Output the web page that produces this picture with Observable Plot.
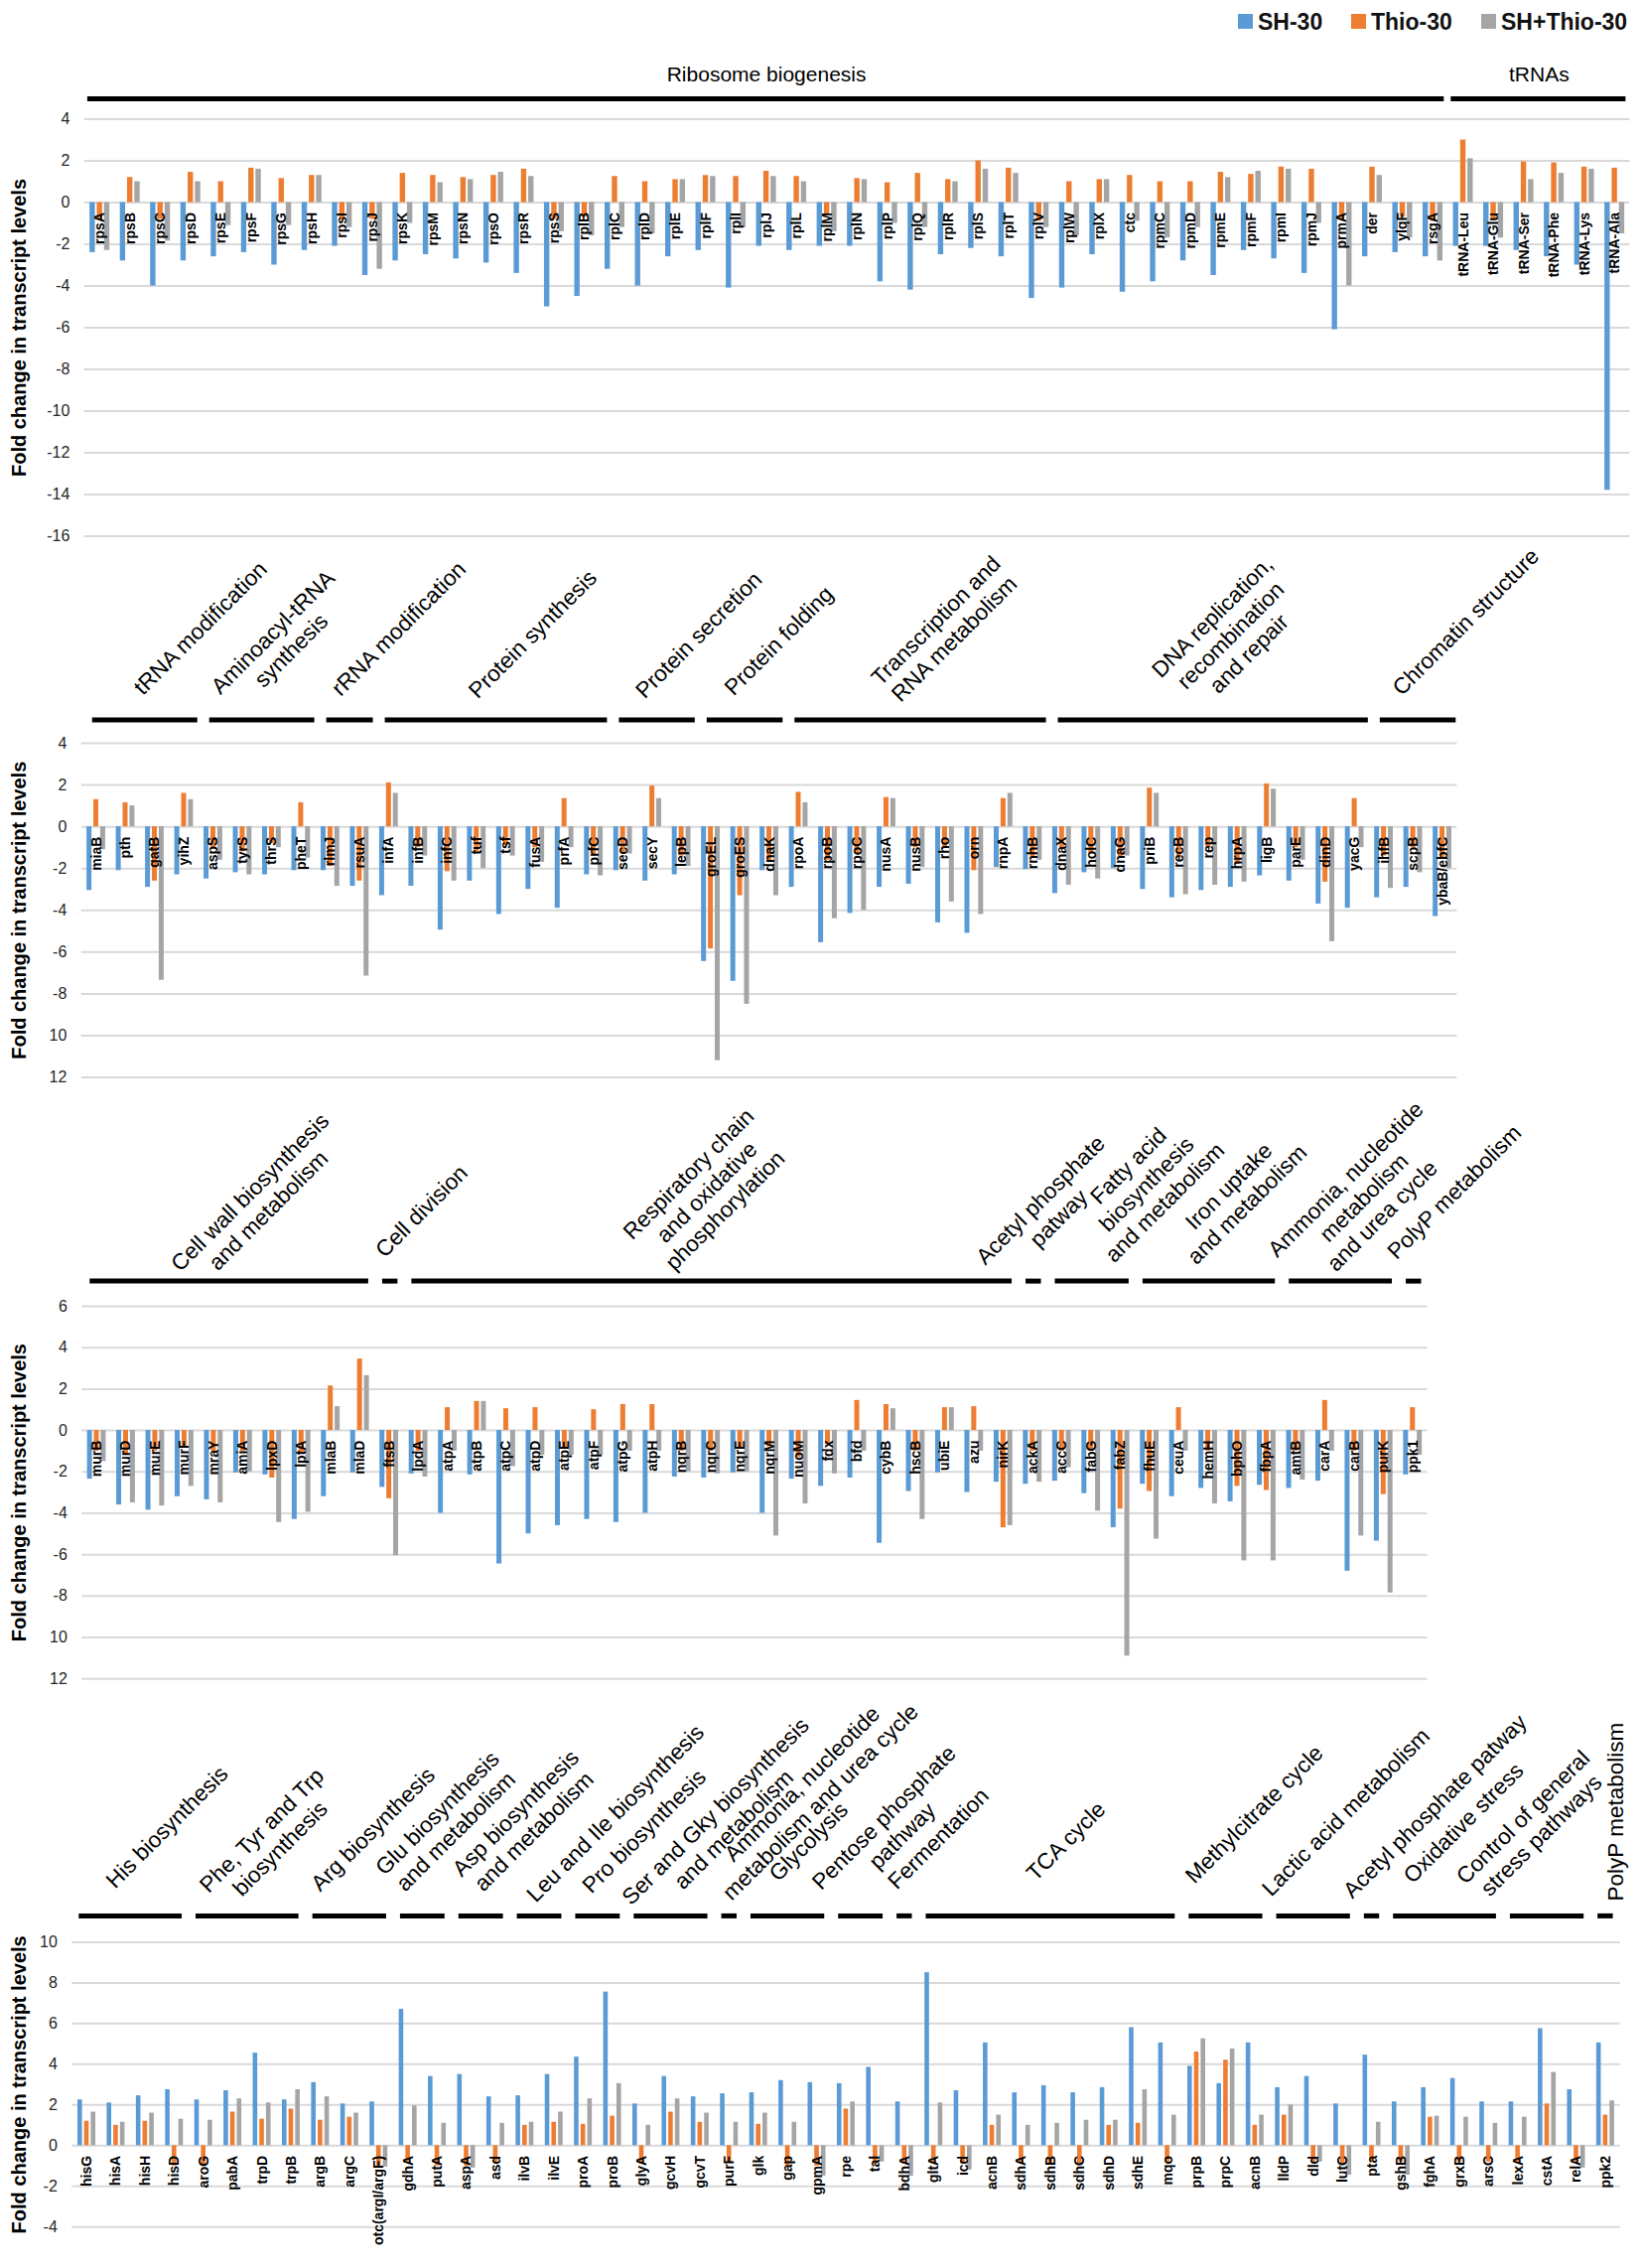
<!DOCTYPE html>
<html>
<head>
<meta charset="utf-8">
<script src="https://cdn.jsdelivr.net/npm/d3@7"></script>
<script src="https://cdn.jsdelivr.net/npm/@observablehq/plot@0.6"></script>
<style>
  html, body { margin: 0; padding: 0; background: #fff; }
  body { width: 1654px; height: 2284px; position: relative; overflow: hidden; font-family: "Liberation Sans", Arial, sans-serif; }
  .panel { position: absolute; left: 0; }
  #legend { position: absolute; left: 0; top: 0; }
</style>
</head>
<body>
<svg id="legend" width="1654" height="44"></svg>
<div id="p1" class="panel" style="top:40px"></div>
<div id="p2" class="panel" style="top:520px"></div>
<div id="p3" class="panel" style="top:1080px"></div>
<div id="p4" class="panel" style="top:1690px"></div>
<script>
// ---------------- DATA ----------------
const SERIES = ["SH-30", "Thio-30", "SH+Thio-30"];

// Panel 1
const genes1 = ["rpsA","rpsB","rpsC","rpsD","rpsE","rpsF","rpsG","rpsH","rpsI","rpsJ","rpsK","rpsM","rpsN","rpsO","rpsR","rpsS","rplB","rplC","rplD","rplE","rplF","rplI","rplJ","rplL","rplM","rplN","rplP","rplQ","rplR","rplS","rplT","rplV","rplW","rplX","ctc","rpmC","rpmD","rpmE","rpmF","rpmI","rpmJ","prmA","der","ylqF","rsgA","tRNA-Leu","tRNA-Glu","tRNA-Ser","tRNA-Phe","tRNA-Lys","tRNA-Ala"];
const sh1 = [-2.4,-2.8,-4.0,-2.8,-2.6,-2.4,-3.0,-2.3,-2.1,-3.5,-2.8,-2.5,-2.7,-2.9,-3.4,-5.0,-4.5,-3.2,-4.0,-2.6,-2.3,-4.1,-2.1,-2.3,-2.1,-2.1,-3.8,-4.2,-2.5,-2.2,-2.6,-4.6,-4.1,-2.5,-4.3,-3.8,-2.8,-3.5,-2.3,-2.7,-3.4,-6.1,-2.6,-2.4,-2.6,-2.1,-2.1,-2.3,-2.6,-3.0,-13.8];
const thio1 = [-0.8,1.2,-0.8,1.45,1.0,1.65,1.15,1.3,-0.8,-0.8,1.4,1.3,1.2,1.3,1.6,-0.8,-0.7,1.25,1.0,1.1,1.3,1.25,1.5,1.25,-0.6,1.15,0.95,1.4,1.1,2.0,1.65,-0.9,1.0,1.1,1.3,1.0,1.0,1.45,1.35,1.7,1.6,-0.8,1.7,-0.7,-0.9,3.0,-0.8,1.95,1.9,1.7,1.65];
const both1 = [-2.3,1.0,-1.85,1.0,-1.1,1.6,-1.1,1.3,-1.2,-3.2,-1.0,0.95,1.1,1.45,1.25,-1.4,-1.6,-1.2,-1.5,1.1,1.25,-1.2,1.25,1.0,-1.4,1.1,-1.0,-1.2,1.0,1.6,1.4,-1.2,-1.6,1.1,-0.9,-1.7,-1.2,1.2,1.5,1.6,-1.0,-4.0,1.3,-1.7,-2.8,2.1,-1.7,1.1,1.4,1.6,-1.5];
const groups1 = [["Ribosome biogenesis", 45], ["tRNAs", 6]];

// Panel 2
const genes2 = ["miaB","pth","gatB","yihZ","aspS","tyrS","thrS","pheT","rlmJ","rsuA","infA","infB","infC","tuf","tsf","fusA","prfA","prfC","secD","secY","lepB","groEL","groES","dnaK","rpoA","rpoB","rpoC","nusA","nusB","rho","orn","rnpA","rnhB","dnaX","holC","dnaG","priB","recB","rep","hrpA","ligB","parE","dinD","yacG","ihfB","scpB","ybaB/ebfC"];
const sh2 = [-3.05,-2.1,-2.9,-2.3,-2.5,-2.2,-2.3,-2.1,-2.1,-2.85,-3.3,-2.85,-4.95,-2.6,-4.2,-3.0,-3.9,-2.3,-2.1,-2.6,-2.3,-6.45,-7.4,-2.1,-2.9,-5.55,-4.15,-2.9,-2.75,-4.6,-5.1,-1.95,-2.05,-3.2,-2.2,-2.0,-3.0,-3.4,-3.05,-2.9,-2.35,-2.6,-3.7,-3.9,-3.4,-2.9,-4.3];
const thio2 = [1.3,1.15,-2.6,1.6,-1.0,-1.2,-0.8,1.15,-1.9,-2.6,2.1,-1.0,-2.15,-1.2,-0.9,-1.0,1.35,-1.4,-1.3,1.95,-1.4,-5.85,-3.3,-1.7,1.65,-1.6,-1.3,1.4,-1.0,-1.0,-2.1,1.35,-1.5,-1.0,-1.3,-1.5,1.85,-1.5,-1.0,-1.8,2.05,-1.0,-2.65,1.35,-1.4,-1.0,-1.5];
const both2 = [-1.1,1.0,-7.35,1.3,-1.6,-2.3,-1.0,-1.5,-2.85,-7.15,1.6,-1.4,-2.6,-2.0,-1.4,-1.7,-1.0,-2.35,-1.3,1.35,-1.9,-11.2,-8.5,-3.3,1.15,-4.4,-4.0,1.35,-1.95,-3.6,-4.2,1.6,-1.6,-2.8,-2.5,-1.4,1.6,-3.25,-2.8,-2.65,1.8,-1.6,-5.5,-1.0,-2.95,-2.2,-2.0];
const groups2 = [["tRNA modification", 4], ["Aminoacyl-tRNA\nsynthesis", 4], ["rRNA modification", 2], ["Protein synthesis", 8], ["Protein secretion", 3], ["Protein folding", 3], ["Transcription and\nRNA metabolism", 9], ["DNA replication,\nrecombination\nand repair", 11], ["Chromatin structure", 3]];

// Panel 3
const genes3 = ["murB","murD","murE","murF","mraY","amiA","lpxD","lptA","mlaB","mlaD","ftsB","lpdA","atpA","atpB","atpC","atpD","atpE","atpF","atpG","atpH","nqrB","nqrC","nqrE","nqrM","nuoM","fdx","bfd","cybB","hscB","ubiE","azu","nirK","ackA","accC","fabG","fabZ","fhuE","ceuA","hemH","bphO","fbpA","amtB","carA","carB","purK","ppk1"];
const sh3 = [-2.35,-3.6,-3.85,-3.2,-3.35,-2.05,-2.15,-4.3,-3.2,-2.05,-2.75,-2.1,-4.0,-2.15,-6.45,-5.0,-4.6,-4.3,-4.45,-4.0,-2.25,-2.3,-2.05,-4.0,-2.35,-2.7,-2.3,-5.45,-2.95,-2.05,-3.0,-2.5,-2.6,-2.45,-3.05,-4.7,-2.6,-3.2,-2.8,-3.45,-2.65,-2.8,-2.45,-6.8,-5.35,-2.15];
const thio3 = [-1.0,-1.2,-1.0,-0.8,-1.0,-1.0,-2.3,-1.1,2.15,3.45,-3.3,-1.0,1.1,1.4,1.05,1.1,-0.9,1.0,1.25,1.25,-1.0,-1.0,-0.9,-0.8,-1.3,-0.7,1.45,1.25,-1.0,1.1,1.15,-4.7,-1.0,-1.0,-1.0,-3.8,-2.95,1.1,-1.0,-2.7,-2.9,-1.0,1.45,-1.0,-3.1,1.1];
const both3 = [-1.5,-3.5,-3.65,-2.7,-3.5,-2.0,-4.45,-3.95,1.15,2.65,-6.05,-2.25,-1.0,1.4,-1.75,-1.2,-1.2,-1.2,-1.0,-1.0,-2.0,-2.1,-2.0,-5.1,-3.55,-2.1,-1.0,1.05,-4.3,1.1,-1.0,-4.6,-2.5,-1.8,-3.9,-10.9,-5.25,-1.0,-3.55,-6.3,-6.3,-2.4,-1.0,-5.1,-7.85,-1.2];
const groups3 = [["Cell wall biosynthesis\nand metabolism", 10], ["Cell division", 1], ["Respiratory chain\nand oxidative\nphosphorylation", 21], ["Acetyl phosphate\npatway", 1], ["Fatty acid\nbiosynthesis\nand metabolism", 3], ["Iron uptake\nand metabolism", 5], ["Ammonia, nucleotide\nmetabolism\nand urea cycle", 4], ["PolyP metabolism", 1]];

// Panel 4
const genes4 = ["hisG","hisA","hisH","hisD","aroG","pabA","trpD","trpB","argB","argC","otc(argI/argF)","gdhA","putA","aspA","asd","ilvB","ilvE","proA","proB","glyA","gcvH","gcvT","purF","glk","gap","gpmA","rpe","tal","bdhA","gltA","icd","acnB","sdhA","sdhB","sdhC","sdhD","sdhE","mqo","prpB","prpC","acnB","lldP","dld","lutC","pta","gshB","fghA","grxB","arsC","lexA","cstA","relA","ppk2"];
const sh4 = [2.25,2.1,2.45,2.75,2.25,2.7,4.55,2.25,3.1,2.05,2.15,6.7,3.4,3.5,2.4,2.45,3.5,4.35,7.55,2.05,3.4,2.4,2.55,2.6,3.2,3.1,3.05,3.85,2.15,8.5,2.7,5.05,2.6,2.95,2.6,2.85,5.8,5.05,3.9,3.05,5.05,2.85,3.4,2.05,4.45,2.15,2.85,3.3,2.15,2.15,5.75,2.75,5.05];
const thio4 = [1.2,1.0,1.2,-1.0,-1.0,1.65,1.3,1.8,1.25,1.4,-1.0,-0.8,-1.0,-1.0,-0.8,1.0,1.15,1.05,1.45,-0.9,1.65,1.15,-0.8,1.05,-1.0,-1.0,1.8,-0.9,-0.9,-0.9,-0.9,1.0,-0.9,-0.9,-0.9,1.0,1.1,-0.8,4.6,4.2,1.0,1.5,-0.8,-0.9,-0.8,-0.8,1.4,-0.8,-0.8,-0.8,2.05,-0.8,1.5];
const both4 = [1.65,1.15,1.6,1.3,1.25,2.3,2.1,2.75,2.4,1.6,-1.05,1.95,1.1,-1.1,1.1,1.15,1.65,2.3,3.05,1.0,2.3,1.6,1.15,1.6,1.15,-1.5,2.15,-0.8,-1.5,2.1,-1.2,1.5,1.0,1.1,1.25,1.25,2.75,1.5,5.25,4.75,1.5,2.0,-0.8,-1.45,1.15,-1.45,1.45,1.4,1.1,1.4,3.6,-1.1,2.2];
const groups4 = [["His biosynthesis", 4], ["Phe, Tyr and Trp\nbiosynthesis", 4], ["Arg biosynthesis", 3], ["Glu biosynthesis\nand metabolism", 2], ["Asp biosynthesis\nand metabolism", 2], ["Leu and Ile biosynthesis", 2], ["Pro biosynthesis", 2], ["Ser and Gky biosynthesis\nand metabolism", 3], ["Ammonia, nucleotide\nmetabolism and urea cycle", 1], ["Glycolysis", 3], ["Pentose phosphate\npathway", 2], ["Fermentation", 1], ["TCA cycle", 9], ["Methylcitrate cycle", 3], ["Lactic acid metabolism", 3], ["Acetyl phosphate patway", 1], ["Oxidative stress", 4], ["Control of general\nstress pathways", 3], ["PolyP metabolism", 1]];

const yTitle = "Fold change in transcript levels";

// ---------------- STYLE / LAYOUT ----------------
const COLORS = ["#5b9bd5", "#ed7d31", "#a5a5a5"];
const FONT = '"Liberation Sans", Arial, sans-serif';
const CAT_SIZE = 22.5, LINE_H = 26;
// pixel offsets of each group label's last-line start from its bracket centre
const catPos2 = [[2,-24],[6,-32],[-5,-23],[-14,-21],[-8,-21],[-7,-24],[-16,-17],[10,-26],[-12,-24]];
const catPos3 = [[-11,-10],[-5,-23],[-37,-10],[6,-33],[23,-18],[-12,-16],[-4,-9],[-17,-21]];
const catPos4 = [[-16,-27],[-6,-19],[-30,-24],[-18,-24],[2,-24],[-4,-13],[-7,-22],[12,-26],[2,-15],[-10,-34],[17,-46],[-8,-26],[-16,-34],[-32,-32],[-43,-19],[-20,-17],[-33,-32],[-58,-19],[10,-15]];

const ctx = document.createElement("canvas").getContext("2d");
function textW(t, size, weight = "normal", family = FONT) { ctx.font = `${weight} ${size}px ${family}`; return ctx.measureText(t).width; }

// gene-label font: narrow bold if available, otherwise a smaller regular-width bold
const narrowOK = textW("rpsAhisGmmmm", 16, "bold", '"Liberation Sans Narrow", monospace') !== textW("rpsAhisGmmmm", 16, "bold", "monospace");
const GENE_FONT = narrowOK ? '"Liberation Sans Narrow", "Liberation Sans", Arial, sans-serif' : FONT;
const GENE_SIZE = narrowOK ? 16 : 14;

// Legend
(function () {
  const svg = d3.select("#legend");
  const xs = [1247, 1361, 1492];
  SERIES.forEach((s, j) => {
    svg.append("rect").attr("x", xs[j]).attr("y", 14).attr("width", 15).attr("height", 15).attr("fill", COLORS[j]);
    svg.append("text").attr("x", xs[j] + 20).attr("y", 21.6).attr("dy", "0.36em")
      .attr("font-family", FONT).attr("font-weight", "bold").attr("font-size", 23).attr("fill", "#111").text(s);
  });
})();

function drawPanel(P) {
  const n = P.genes.length;
  const bw = (P.x1 - P.x0) / n;
  const [yMin, yMax] = P.yDomain;
  const pyu = (P.height - P.mBottom - P.mTop) / (yMax - yMin);
  const toX = px => -0.5 + (px - P.x0) / bw;
  const toY = py => yMax - (py - P.mTop) / pyu;
  const [barW, barStep] = P.bar;

  const rows = [];
  P.genes.forEach((g, i) => {
    [P.sh[i], P.thio[i], P.both[i]].forEach((v, j) => {
      const c = i + ((j - 1) * barStep) / bw;
      rows.push({ i, s: SERIES[j], v, x1: c - barW / 2 / bw, x2: c + barW / 2 / bw });
    });
  });
  const geneRows = P.genes.map((g, i) => ({ g, i }));

  let a = 0;
  const grp = P.groups.map(([name, count]) => { const g = { name, a, b: a + count - 1 }; a += count; return g; });
  const byPx = P.mTop - P.bracketOff;
  const [gl, gr] = P.gap;

  const diagRows = [], vertRows = [], horizRows = [];
  const c = Math.SQRT1_2;
  grp.forEach((g, gi) => {
    const cxPx = P.x0 + (g.a + g.b + 1) / 2 * bw;
    if (P.horizontal) {
      horizRows.push({ t: g.name, x: (g.a + g.b) / 2 });
      return;
    }
    const off0 = P.catPos[gi];
    if (P.verticalLast && gi === grp.length - 1) {
      vertRows.push({ t: g.name, x: toX(cxPx + off0[0]), y: toY(byPx + off0[1]) });
      return;
    }
    const lines = g.name.split("\n");
    const k = lines.length;
    const Sx = cxPx + off0[0], Sy = byPx + off0[1];
    const wl = textW(lines[k - 1], CAT_SIZE);
    const Cx = Sx + (wl / 2) * c - 0.3 * CAT_SIZE * c;
    const Cy = Sy - (wl / 2) * c - 0.3 * CAT_SIZE * c;
    lines.forEach((t, j) => {
      const off = (k - 1 - j) * LINE_H;
      diagRows.push({ t, x: toX(Cx - off * c), y: toY(Cy - off * c) });
    });
  });

  const ticks = d3.range(yMin, yMax + 0.001, 2);
  const marks = [
    Plot.ruleY(ticks, { stroke: "#d9d9d9", strokeWidth: 2 }),
    Plot.rect(rows, { x1: "x1", x2: "x2", y1: () => 0, y2: "v", fill: "s" }),
    Plot.text(geneRows, { x: "i", y: () => 0, text: "g", rotate: -90, textAnchor: "end", dy: 10, fontWeight: "bold", fontSize: GENE_SIZE, fontFamily: GENE_FONT, fill: "#000" }),
    Plot.ruleY(grp, { x1: d => d.a - 0.5 + gl / bw, x2: d => d.b + 0.5 - gr / bw, y: () => yMax, dy: -P.bracketOff, stroke: "#000", strokeWidth: 5 }),
    Plot.text(diagRows, { x: "x", y: "y", text: "t", rotate: -45, textAnchor: "middle", lineAnchor: "middle", fontSize: CAT_SIZE, fill: "#000" }),
    Plot.text(vertRows, { x: "x", y: "y", text: "t", rotate: -90, textAnchor: "start", lineAnchor: "middle", fontSize: CAT_SIZE, fill: "#000" }),
    Plot.text(horizRows, { x: "x", y: () => yMax, text: "t", dy: P.horizDy, textAnchor: "middle", fontSize: 21, fill: "#000" }),
    Plot.text([yTitle], { x: () => toX(19), y: () => (yMin + yMax) / 2, text: d => d, rotate: -90, textAnchor: "middle", lineAnchor: "middle", fontWeight: "bold", fontSize: 20, fill: "#000" })
  ];

  const chart = Plot.plot({
    width: 1654,
    height: P.height,
    marginLeft: P.x0,
    marginRight: 1654 - P.x1,
    marginTop: P.mTop,
    marginBottom: P.mBottom,
    x: { domain: [-0.5, n - 0.5], axis: null },
    y: { domain: [yMin, yMax], ticks, tickFormat: P.tickFmt, tickSize: 0, tickPadding: 15, label: null },
    color: { domain: SERIES, range: COLORS },
    style: { fontFamily: FONT, fontSize: "16px", color: "#262626", background: "transparent", overflow: "visible" },
    marks
  });
  document.getElementById(P.id).appendChild(chart);
}

const fmtPlain = d => String(d);
const fmtNoMinus = d => (d <= -10 ? String(-d) : String(d));

drawPanel({ id: "p1", genes: genes1, sh: sh1, thio: thio1, both: both1, groups: groups1,
  height: 510, mTop: 79.5, mBottom: 10.5, x0: 84.9, x1: 1641.4, yDomain: [-16, 4], tickFmt: fmtPlain,
  bracketOff: 20.6, gap: [3, 4], horizontal: true, horizDy: -44.5, bar: [5.4, 7.3] });

drawPanel({ id: "p2", genes: genes2, sh: sh2, thio: thio2, both: both2, groups: groups2,
  height: 580, mTop: 228, mBottom: 15.5, x0: 81.8, x1: 1467.3, yDomain: [-12, 4], tickFmt: fmtNoMinus,
  bracketOff: 23.4, gap: [11, 1], catPos: catPos2, bar: [5.0, 6.9] });

drawPanel({ id: "p3", genes: genes3, sh: sh3, thio: thio3, both: both3, groups: groups3,
  height: 625, mTop: 235, mBottom: 14.8, x0: 82.3, x1: 1437.5, yDomain: [-12, 6], tickFmt: fmtNoMinus,
  bracketOff: 25.4, gap: [8, 6], catPos: catPos3, bar: [5.0, 6.9] });

drawPanel({ id: "p4", genes: genes4, sh: sh4, thio: thio4, both: both4, groups: groups4,
  height: 594, mTop: 265.4, mBottom: 41.7, x0: 72.3, x1: 1631.6, yDomain: [-4, 10], tickFmt: fmtPlain,
  bracketOff: 26.5, gap: [7, 7], catPos: catPos4, verticalLast: true, bar: [4.6, 6.7] });
</script>
</body>
</html>
